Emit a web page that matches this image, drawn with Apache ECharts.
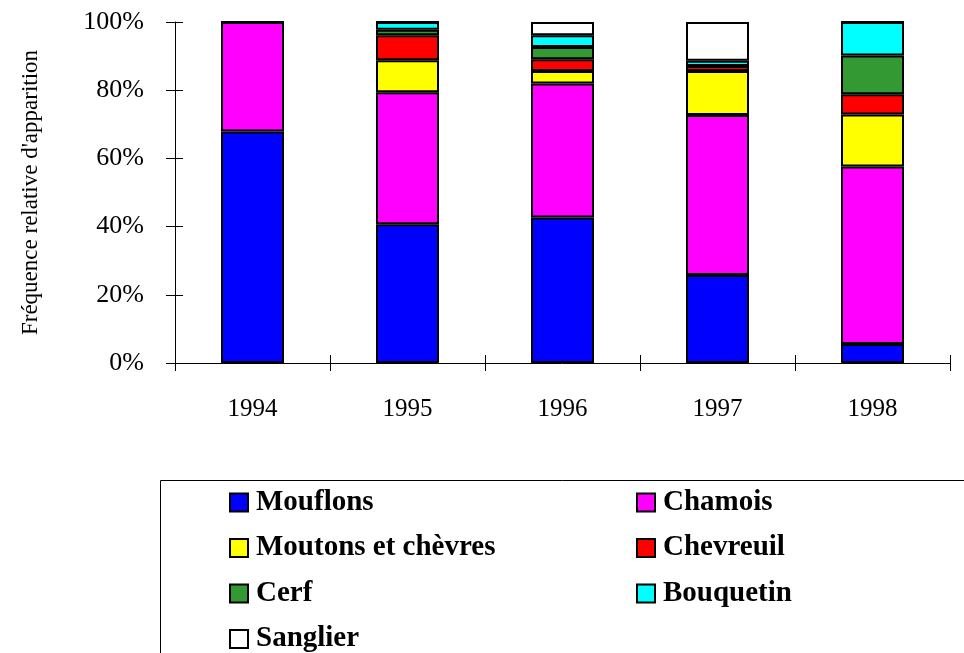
<!DOCTYPE html>
<html>
<head>
<meta charset="utf-8">
<script src="https://cdn.jsdelivr.net/npm/echarts@6/dist/echarts.min.js"></script>
<style>html,body{margin:0;padding:0;background:#fff;}#c{width:964px;height:653px;}</style>
</head>
<body>
<div id="c"></div>
<script>
const years = ['1994', '1995', '1996', '1997', '1998'];
const mouflons = [67.9, 40.7, 42.7, 25.8, 5.6];
const chamois = [32.1, 38.7, 39.3, 46.9, 52.0];
const moutons = [0, 9.4, 3.6, 12.9, 15.3];
const chevreuil = [0, 7.3, 3.5, 1.5, 5.9];
const cerf = [0, 1.6, 3.6, 0, 11.4];
const bouquetin = [0, 2.3, 3.4, 1.5, 9.8];
const sanglier = [0, 0, 3.9, 11.4, 0];
const yTicks = [0, 20, 40, 60, 80, 100];

const seriesDefs = [
  ['Mouflons', mouflons, '#0000FF'],
  ['Chamois', chamois, '#FF00FF'],
  ['Moutons et chèvres', moutons, '#FFFF00'],
  ['Chevreuil', chevreuil, '#FF0000'],
  ['Cerf', cerf, '#339933'],
  ['Bouquetin', bouquetin, '#00FFFF'],
  ['Sanglier', sanglier, '#FFFFFF']
];

const font = 'Liberation Serif';
const chart = echarts.init(document.getElementById('c'));
const legendText = {fontFamily: font, fontWeight: 'bold', fontSize: 29, color: '#000', lineHeight: 29, padding: [0, 0, 0, 3]};
const legendCommon = {
  orient: 'vertical', icon: 'rect', itemWidth: 18, itemHeight: 18, itemGap: 16.5,
  textStyle: legendText, selectedMode: false, top: 488, padding: 0, height: 200
};
chart.setOption({
  animation: false,
  grid: {left: 175, right: 14, top: 22, bottom: 290, containLabel: false},
  xAxis: [{
    type: 'category', data: years,
    axisLine: {lineStyle: {color: '#000', width: 1}},
    axisTick: {show: true, length: 8, lineStyle: {color: '#000'}},
    axisLabel: {fontFamily: font, fontSize: 25, color: '#000', margin: 34}
  }, {
    type: 'category', data: years, position: 'bottom',
    axisLine: {show: false},
    axisTick: {show: true, inside: true, length: 8, lineStyle: {color: '#000'}},
    axisLabel: {show: false}
  }],
  yAxis: [{
    type: 'value', min: yTicks[0], max: yTicks[yTicks.length - 1], interval: 20,
    axisLine: {show: true, lineStyle: {color: '#000', width: 1}},
    axisTick: {show: true, length: 9, lineStyle: {color: '#000'}},
    splitLine: {show: false},
    axisLabel: {fontFamily: font, fontSize: 26, color: '#000', margin: 31, formatter: '{value}%'},
    name: "Fréquence relative d'apparition",
    nameLocation: 'middle', nameRotate: 90, nameGap: 133,
    nameTextStyle: {fontFamily: font, fontSize: 23, color: '#000'}
  }, {
    type: 'value', min: yTicks[0], max: yTicks[yTicks.length - 1], interval: 20, position: 'left',
    axisLine: {show: false},
    axisTick: {show: true, inside: true, length: 8, lineStyle: {color: '#000'}},
    splitLine: {show: false}, axisLabel: {show: false}
  }],
  legend: [
    Object.assign({left: 229, data: ['Mouflons', 'Moutons et chèvres', 'Cerf', 'Sanglier']}, legendCommon),
    Object.assign({left: 636, data: ['Chamois', 'Chevreuil', 'Bouquetin']}, legendCommon)
  ],
  graphic: [{
    type: 'rect', shape: {x: 160.5, y: 480.5, width: 900, height: 300},
    style: {fill: 'none', stroke: '#000', lineWidth: 1}, silent: true
  }],
  series: seriesDefs.map(([name, data, color]) => ({
    name, type: 'bar', stack: 'total', data, barWidth: 63,
    itemStyle: {color, borderColor: '#000', borderWidth: 2}
  }))
});
</script>
</body>
</html>
